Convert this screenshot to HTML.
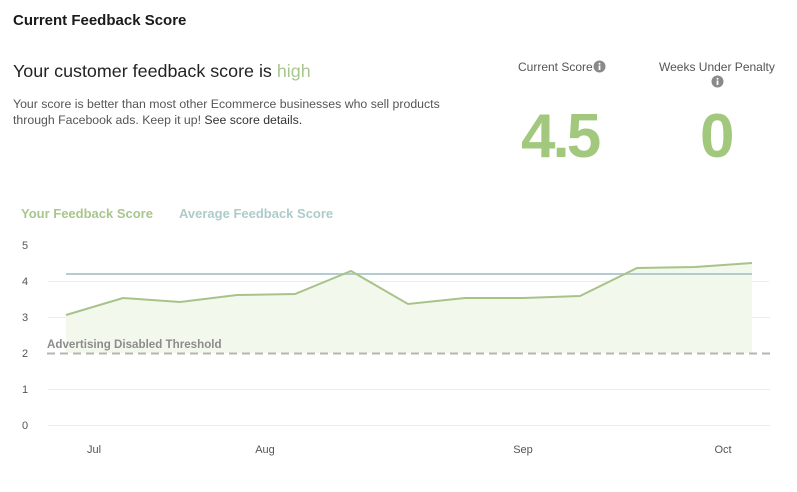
<!DOCTYPE html>
<html><head><meta charset="utf-8">
<style>
html,body{margin:0;padding:0;background:#fff;}
body{width:797px;height:492px;position:relative;overflow:hidden;font-family:"Liberation Sans",sans-serif;}
.t{position:absolute;white-space:nowrap;}
</style></head><body>
<div class="t" style="left:13px;top:12px;font-size:15px;font-weight:bold;color:#1a1a1a;">Current Feedback Score</div>
<div class="t" style="left:13px;top:61px;font-size:17.9px;color:#222;">Your customer feedback score is <span style="color:#a8c68c;">high</span></div>
<div class="t" style="left:13px;top:96px;font-size:12.3px;line-height:16px;color:#555;">Your score is better than most other Ecommerce businesses who sell products<br>through Facebook ads. Keep it up! <span style="color:#333;">See score details.</span></div>

<div class="t" style="left:518px;top:60px;font-size:12px;color:#555;">Current Score</div>
<svg style="position:absolute;left:593px;top:60px" width="13" height="13"><circle cx="6.5" cy="6.5" r="6" fill="#8a8a8a"/><rect x="5.6" y="5.5" width="1.8" height="4.5" fill="#fff"/><circle cx="6.5" cy="3.7" r="1" fill="#fff"/></svg>
<div class="t" style="left:659px;top:60px;font-size:12px;color:#555;">Weeks Under Penalty</div>
<svg style="position:absolute;left:711px;top:75px" width="13" height="13"><circle cx="6.5" cy="6.5" r="6" fill="#8a8a8a"/><rect x="5.6" y="5.5" width="1.8" height="4.5" fill="#fff"/><circle cx="6.5" cy="3.7" r="1" fill="#fff"/></svg>
<div class="t" style="left:521px;top:101px;font-size:62px;font-weight:bold;color:#a2c87e;letter-spacing:-3px;">4.5</div>
<div class="t" style="left:700px;top:101px;font-size:62px;font-weight:bold;color:#a2c87e;">0</div>

<div class="t" style="left:21px;top:206px;font-size:13px;font-weight:bold;color:#a9c68e;">Your Feedback Score</div>
<div class="t" style="left:179px;top:206px;font-size:13px;font-weight:bold;color:#aecbcb;">Average Feedback Score</div>

<svg style="position:absolute;left:0;top:0" width="797" height="492">
  <g stroke="#ececec" stroke-width="1">
    <line x1="48" y1="281.5" x2="769" y2="281.5"/>
    <line x1="48" y1="317.5" x2="770" y2="317.5"/>
    <line x1="48" y1="389.5" x2="770" y2="389.5"/>
    <line x1="48" y1="425.5" x2="770" y2="425.5"/>
  </g>
  <polygon fill="#f3f8ec" points="66,315 123,298 180,302 237,295 295,294 351,271 408,304 465,298 523,298 580,296 637,268 695,267 752,263 752,353 66,353"/>
  <line x1="66" y1="274" x2="752" y2="274" stroke="#b3cbd3" stroke-width="2"/>
  <polyline fill="none" stroke="#a8c38a" stroke-width="2" points="66,315 123,298 180,302 237,295 295,294 351,271 408,304 465,298 523,298 580,296 637,268 695,267 752,263"/>
  <line x1="47" y1="353.5" x2="771" y2="353.5" stroke="#b5b5b5" stroke-width="2" stroke-dasharray="8,5"/>
  <text x="47" y="348" font-family="Liberation Sans, sans-serif" font-size="11.6" font-weight="bold" fill="#8c8c8c">Advertising Disabled Threshold</text>
  <g font-family="Liberation Sans, sans-serif" font-size="11" fill="#555" text-anchor="middle">
    <text x="25" y="249">5</text>
    <text x="25" y="285">4</text>
    <text x="25" y="321">3</text>
    <text x="25" y="357">2</text>
    <text x="25" y="393">1</text>
    <text x="25" y="429">0</text>
    <text x="94" y="453">Jul</text>
    <text x="265" y="453">Aug</text>
    <text x="523" y="453">Sep</text>
    <text x="723" y="453">Oct</text>
  </g>
</svg>
</body></html>
